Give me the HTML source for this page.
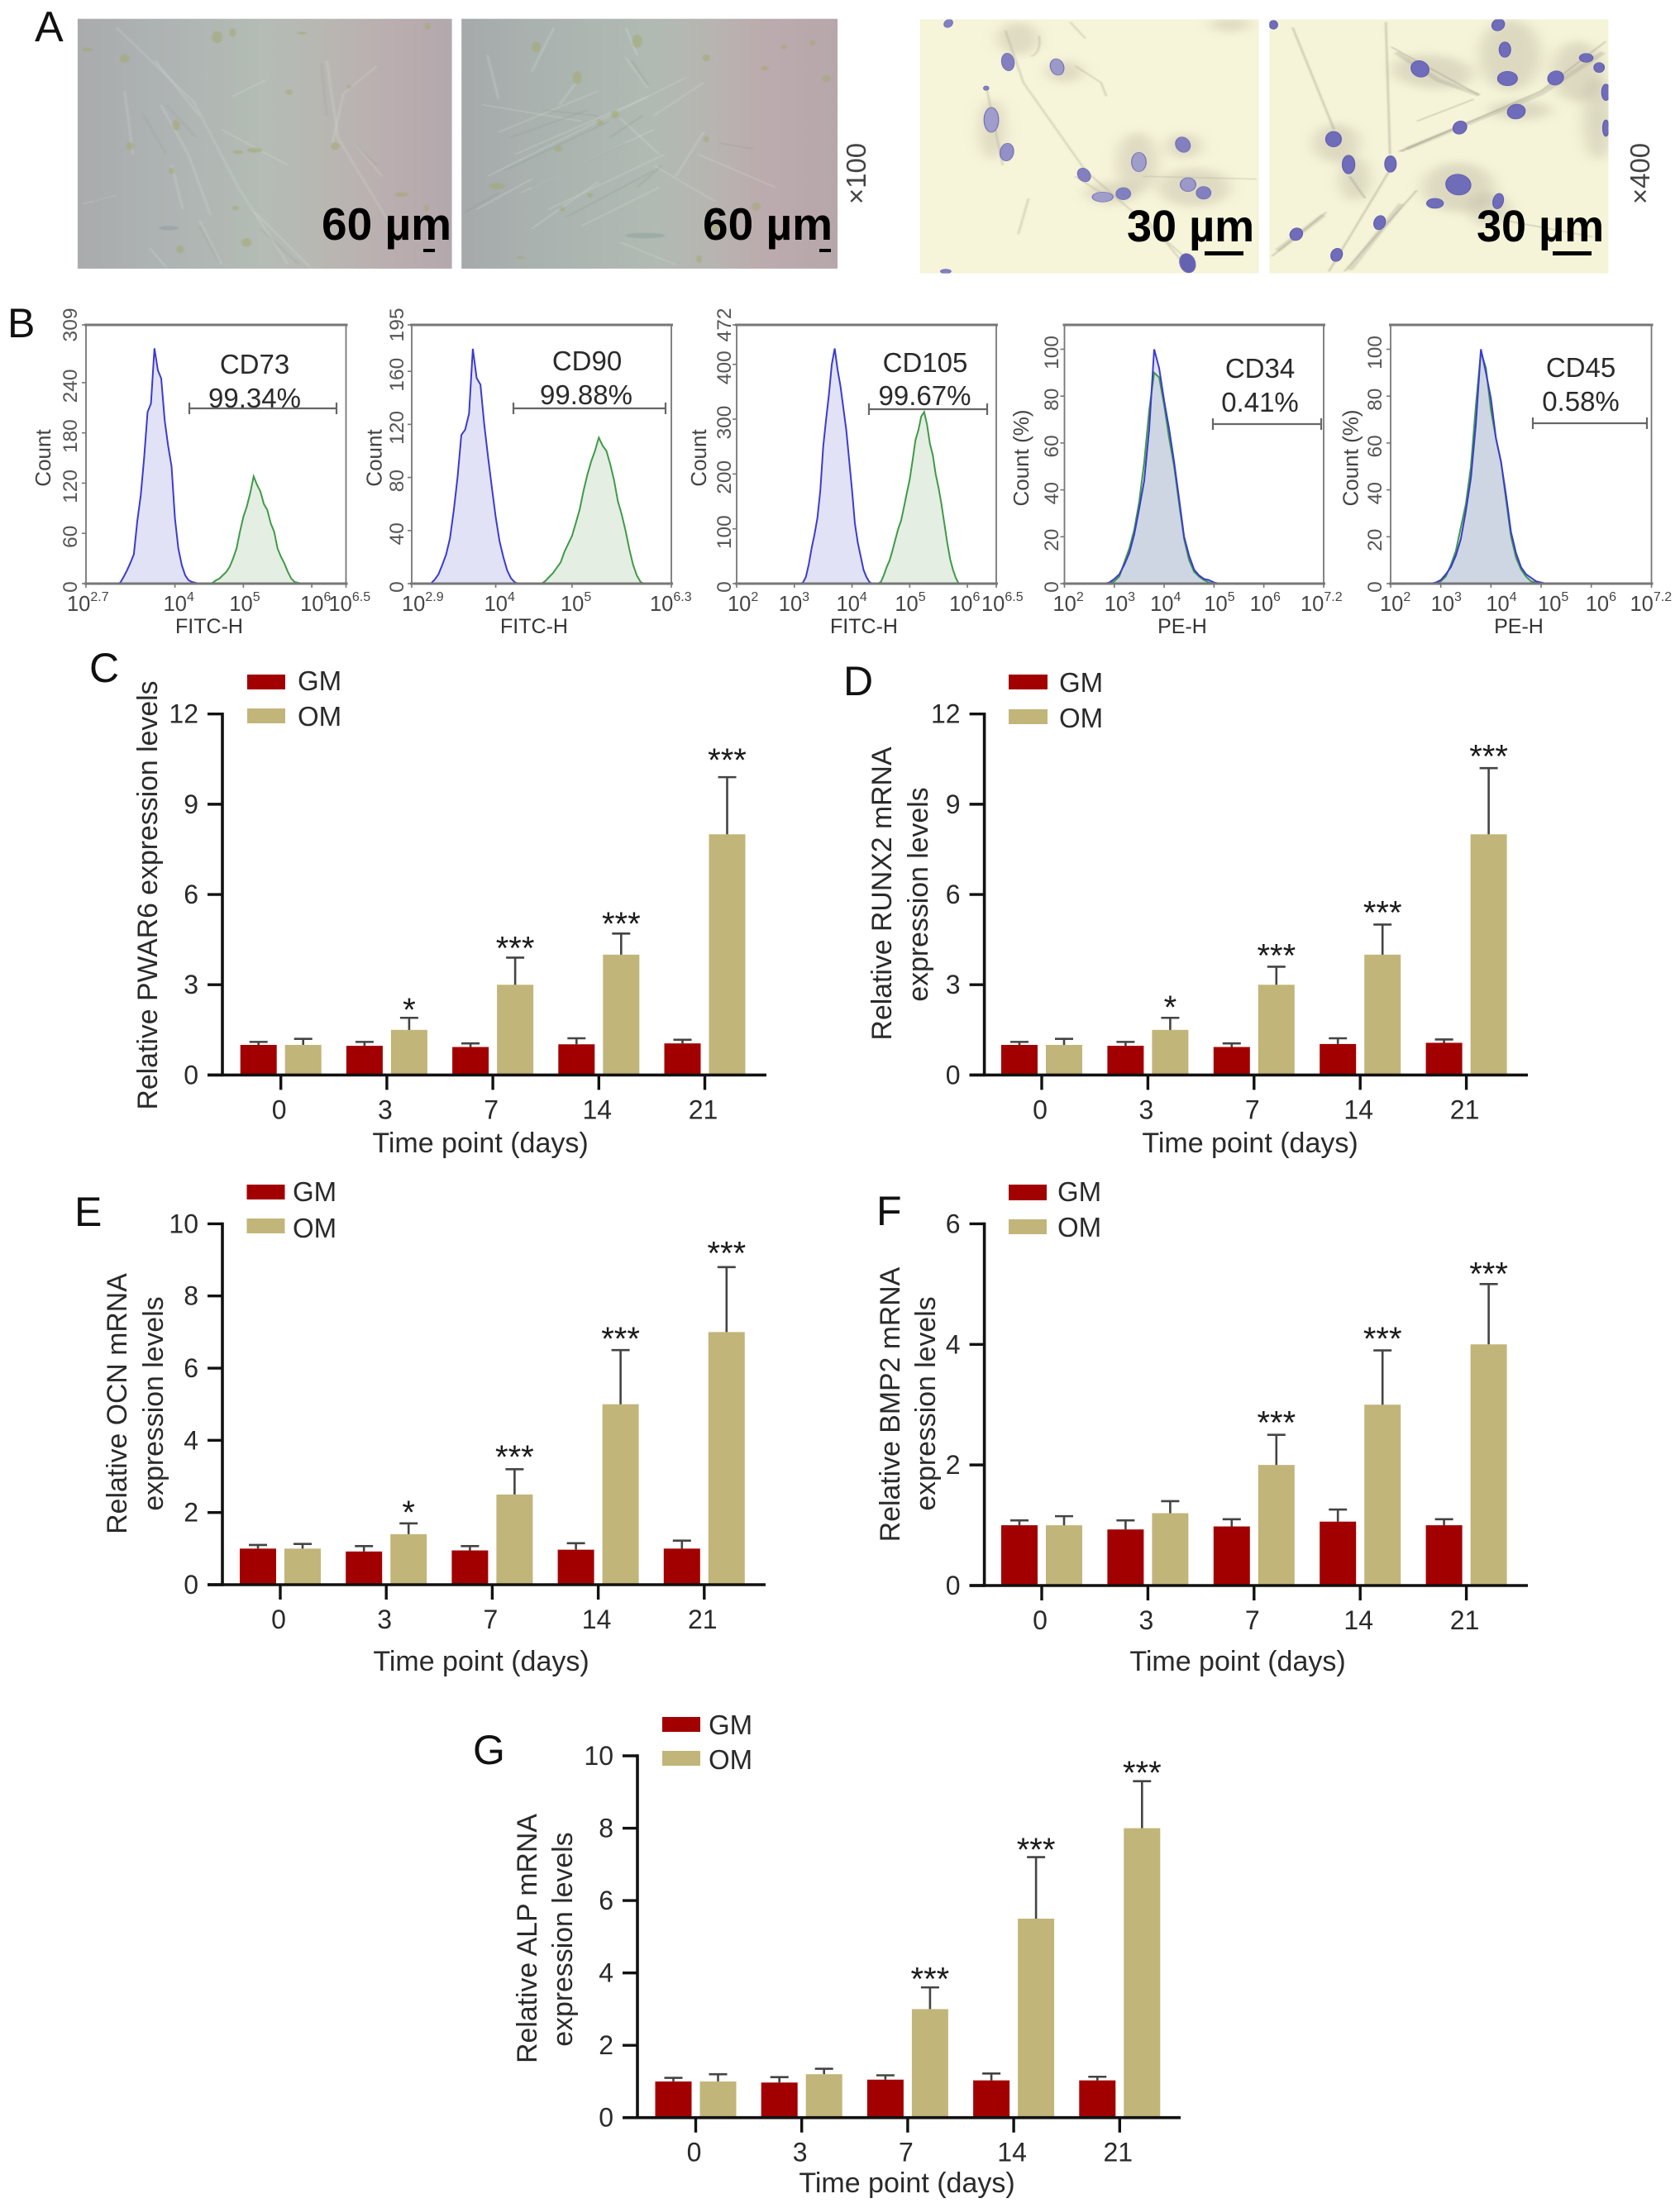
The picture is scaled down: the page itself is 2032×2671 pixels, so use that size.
<!DOCTYPE html>
<html lang="en">
<head>
<meta charset="utf-8">
<title>MSC characterisation and osteogenic expression figure</title>
<style>
html,body{margin:0;padding:0;background:#fff;}
svg{display:block;}
text{font-family:"Liberation Sans",Arial,sans-serif;}
</style>
</head>
<body>
<svg id="figure" xmlns="http://www.w3.org/2000/svg" width="2032" height="2671" viewBox="0 0 2032 2671">
<defs>
<linearGradient id="g1" gradientUnits="userSpaceOnUse" x1="140" y1="0" x2="816" y2="0"><stop offset="0" stop-color="#a9abad"/><stop offset=".25" stop-color="#aeb4b3"/><stop offset=".5" stop-color="#b4bcb5"/><stop offset=".68" stop-color="#b9b6b2"/><stop offset=".85" stop-color="#baadaf"/><stop offset="1" stop-color="#b3a8ad"/></linearGradient>
<linearGradient id="g2" gradientUnits="userSpaceOnUse" x1="833" y1="0" x2="1512" y2="0"><stop offset="0" stop-color="#a5a9ab"/><stop offset=".2" stop-color="#aab2af"/><stop offset=".5" stop-color="#b0bab3"/><stop offset=".66" stop-color="#b7b5b1"/><stop offset=".8" stop-color="#bcabae"/><stop offset="1" stop-color="#b6a7ab"/></linearGradient>
<filter id="soft" x="-5%" y="-5%" width="110%" height="110%"><feGaussianBlur stdDeviation="1.5"/></filter>
<filter id="soft2" x="-30%" y="-30%" width="160%" height="160%"><feGaussianBlur stdDeviation="14"/></filter>
<clipPath id="c1"><rect x="140" y="68" width="676" height="907"/></clipPath>
<clipPath id="c2"><rect x="833" y="68" width="679" height="907"/></clipPath>
<clipPath id="c3"><rect x="100" y="70" width="655" height="922"/></clipPath>
<clipPath id="c4"><rect x="775" y="70" width="655" height="922"/></clipPath>
</defs>
<rect width="2032" height="2671" fill="#fff"/>

<g>
<text x="42" y="50" font-size="52" fill="#111">A</text>
<g transform="scale(.67,.3333)" clip-path="url(#c1)">
<rect x="140" y="68" width="676" height="907" fill="url(#g1)"/>
<g filter="url(#soft)" fill="none" stroke="#d5ddd4" stroke-opacity=".38" stroke-width="3">
<path d="M210 100 L350 370 L430 680 L520 960"/><path d="M280 220 L360 420"/><path d="M225 330 L240 560"/><path d="M290 380 L340 560 L380 780"/><path d="M590 220 L610 500 L700 800"/><path d="M680 240 L620 340 L600 520"/><path d="M460 770 L560 970"/><path d="M360 800 L400 960"/><path d="M150 740 L210 710"/><path d="M420 350 L480 290"/><path d="M400 470 L520 600"/><path d="M640 520 L690 640"/><path d="M310 600 L330 760"/><path d="M270 900 L300 970"/>
</g>
<g filter="url(#soft)" fill="none" stroke="#8e9a8c" stroke-opacity=".3" stroke-width="3">
<path d="M260 420 L300 560"/><path d="M300 380 L355 500"/><path d="M580 230 L590 420"/><path d="M640 520 L680 600"/><path d="M470 830 L540 960"/><path d="M170 730 L205 715"/><path d="M360 820 L395 950"/>
</g>
<g filter="url(#soft)" fill="#a3a76e" fill-opacity=".55">
<ellipse cx="225" cy="212" rx="8" ry="16"/><ellipse cx="392" cy="135" rx="10" ry="22"/><ellipse cx="420" cy="118" rx="6" ry="16"/><ellipse cx="158" cy="180" rx="10" ry="7"/><ellipse cx="318" cy="455" rx="7" ry="18"/><ellipse cx="235" cy="530" rx="7" ry="14"/><ellipse cx="605" cy="530" rx="8" ry="14"/><ellipse cx="460" cy="545" rx="14" ry="9"/><ellipse cx="430" cy="552" rx="9" ry="7"/><ellipse cx="725" cy="706" rx="12" ry="9"/><ellipse cx="445" cy="880" rx="9" ry="16"/><ellipse cx="325" cy="905" rx="7" ry="14"/><ellipse cx="772" cy="95" rx="6" ry="12"/><ellipse cx="630" cy="315" rx="4" ry="7"/><ellipse cx="522" cy="335" rx="6" ry="10"/><ellipse cx="310" cy="620" rx="5" ry="12"/><ellipse cx="425" cy="755" rx="6" ry="9"/><ellipse cx="770" cy="755" rx="5" ry="12"/><ellipse cx="545" cy="120" rx="9" ry="5"/>
</g>
<ellipse cx="305" cy="828" rx="18" ry="8" fill="#8e9a9c" fill-opacity=".5" filter="url(#soft)"/>
</g>
<g transform="scale(.67,.3333)" clip-path="url(#c2)">
<rect x="833" y="68" width="679" height="907" fill="url(#g2)"/>
<g filter="url(#soft)" fill="none" stroke="#d2ddd3" stroke-opacity=".42" stroke-width="3">
<path d="M900 480 L1080 330"/><path d="M930 560 L1170 350"/><path d="M880 640 L1240 280"/><path d="M940 700 L1180 470"/><path d="M990 760 L1200 560"/><path d="M1050 820 L1190 680"/><path d="M870 380 L1050 440"/><path d="M1130 210 L1170 320"/><path d="M1040 300 L1010 380"/><path d="M1120 430 L1190 560"/><path d="M1180 600 L1290 730"/><path d="M960 830 L1080 660"/><path d="M860 760 L960 650"/><path d="M1180 420 L1270 300"/><path d="M1270 480 L1220 640"/><path d="M880 200 L900 360"/><path d="M1000 100 L960 260"/><path d="M1130 100 L1150 200"/><path d="M1260 560 L1400 680"/><path d="M1120 880 L1220 960"/>
</g>
<g filter="url(#soft)" fill="none" stroke="#839186" stroke-opacity=".35" stroke-width="3">
<path d="M920 500 L1060 400"/><path d="M910 620 L1100 440"/><path d="M960 680 L1130 520"/><path d="M1020 790 L1180 620"/><path d="M980 400 L1080 420"/><path d="M1140 220 L1170 310"/><path d="M1100 500 L1160 420"/><path d="M1300 520 L1360 540"/><path d="M840 770 L900 700"/><path d="M1150 680 L1195 600"/>
</g>
<g filter="url(#soft)" fill="#a3a76e" fill-opacity=".55">
<ellipse cx="968" cy="170" rx="8" ry="20"/><ellipse cx="1042" cy="282" rx="8" ry="24"/><ellipse cx="1110" cy="415" rx="7" ry="15"/><ellipse cx="1083" cy="445" rx="6" ry="12"/><ellipse cx="1008" cy="540" rx="7" ry="11"/><ellipse cx="1275" cy="210" rx="7" ry="12"/><ellipse cx="1150" cy="150" rx="9" ry="24"/><ellipse cx="1467" cy="155" rx="5" ry="10"/><ellipse cx="1415" cy="170" rx="5" ry="9"/><ellipse cx="1380" cy="248" rx="7" ry="9"/><ellipse cx="1492" cy="285" rx="8" ry="12"/><ellipse cx="897" cy="676" rx="14" ry="12"/><ellipse cx="1065" cy="708" rx="5" ry="9"/><ellipse cx="1015" cy="758" rx="5" ry="9"/><ellipse cx="1365" cy="750" rx="8" ry="14"/><ellipse cx="1275" cy="505" rx="5" ry="12"/><ellipse cx="1290" cy="825" rx="8" ry="16"/><ellipse cx="1262" cy="940" rx="5" ry="14"/><ellipse cx="940" cy="935" rx="7" ry="5"/>
</g>
<ellipse cx="1165" cy="855" rx="36" ry="10" fill="#8fa49f" fill-opacity=".6" filter="url(#soft)"/>
</g>
<g transform="translate(1050,0) scale(.6262,.3333)" clip-path="url(#c3)">
<rect x="100" y="70" width="655" height="922" fill="#f6f4d9"/>
<g filter="url(#soft2)" fill="#a8a390" fill-opacity=".3">
<ellipse cx="290" cy="140" rx="40" ry="60"/><ellipse cx="700" cy="90" rx="40" ry="25"/><ellipse cx="240" cy="470" rx="25" ry="110"/><ellipse cx="520" cy="590" rx="40" ry="110"/><ellipse cx="630" cy="680" rx="70" ry="70"/><ellipse cx="470" cy="700" rx="50" ry="40"/><ellipse cx="380" cy="260" rx="35" ry="40"/><ellipse cx="610" cy="530" rx="35" ry="45"/>
</g>
<g filter="url(#soft)" fill="none" stroke="#a9a593" stroke-width="3" stroke-opacity=".55">
<path d="M265 110 L300 300 L420 620 L610 930"/><path d="M330 130 Q335 190 315 205"/><path d="M400 240 L450 300 L460 350"/><path d="M390 80 L420 140"/><path d="M230 330 L260 600"/><path d="M540 800 L620 980"/><path d="M530 640 L750 650"/><path d="M310 720 L290 850"/><path d="M450 700 L400 640"/>
</g>
<g fill="#8280bf" stroke="#7470b6" stroke-width="2">
<ellipse cx="270" cy="225" rx="12" ry="32" transform="rotate(-3 270 225)"/><ellipse cx="365" cy="243" rx="13" ry="30" transform="rotate(-5 365 243)" fill="#9b99c8"/><ellipse cx="238" cy="435" rx="14" ry="45" fill="#9f9dca"/><ellipse cx="268" cy="552" rx="13" ry="32" transform="rotate(3 268 552)" fill="#9290c6"/><ellipse cx="155" cy="85" rx="8" ry="15" transform="rotate(10 155 85)"/><ellipse cx="608" cy="525" rx="14" ry="28" transform="rotate(-5 608 525)"/><ellipse cx="523" cy="588" rx="14" ry="35" fill="#9f9dca"/><ellipse cx="417" cy="635" rx="12" ry="25" transform="rotate(-8 417 635)"/><ellipse cx="618" cy="670" rx="15" ry="25" fill="#9b99c8"/><ellipse cx="648" cy="700" rx="14" ry="23"/><ellipse cx="493" cy="703" rx="14" ry="22"/><ellipse cx="453" cy="715" rx="20" ry="18" fill="#9f9dca"/><ellipse cx="617" cy="955" rx="15" ry="35" transform="rotate(-5 617 955)" fill="#6562b2"/><ellipse cx="150" cy="985" rx="10" ry="8"/><ellipse cx="228" cy="320" rx="5" ry="8"/>
</g>
</g>
<g transform="translate(1050,0) scale(.6262,.3333)" clip-path="url(#c4)">
<rect x="775" y="70" width="655" height="922" fill="#f6f4d8"/>
<g filter="url(#soft2)" fill="#a8a390" fill-opacity=".32">
<ellipse cx="905" cy="520" rx="45" ry="70"/><ellipse cx="940" cy="650" rx="30" ry="80"/><ellipse cx="1140" cy="680" rx="70" ry="90"/><ellipse cx="1090" cy="260" rx="80" ry="60" transform="rotate(15 1090 260)"/><ellipse cx="1240" cy="200" rx="60" ry="130"/><ellipse cx="1370" cy="260" rx="50" ry="110"/><ellipse cx="1410" cy="430" rx="30" ry="150"/><ellipse cx="1200" cy="760" rx="40" ry="60"/><ellipse cx="1260" cy="400" rx="60" ry="35"/>
</g>
<g filter="url(#soft)" fill="none" stroke="#9a9688" stroke-width="3" stroke-opacity=".6">
<path d="M820 100 L900 470"/><path d="M1000 80 L1008 560"/><path d="M890 985 L1010 610"/><path d="M780 930 L885 770"/><path d="M920 985 L1060 690"/><path d="M1010 170 L1180 345"/><path d="M1030 550 L1300 330 L1425 150"/><path d="M960 720 L930 640"/><path d="M1140 460 L1025 550"/><path d="M1230 800 L1400 860"/><path d="M1060 440 L1170 360"/>
</g>
<g filter="url(#soft)" fill="none" stroke="#a9a593" stroke-width="12" stroke-opacity=".35">
<path d="M1040 540 L1300 340 L1420 190"/><path d="M1020 190 L1100 290 L1180 345"/><path d="M790 910 L880 780"/><path d="M930 980 L1030 740"/>
</g>
<g fill="#6f6dba" stroke="#5f5bae" stroke-width="2">
<ellipse cx="783" cy="90" rx="8" ry="16"/><ellipse cx="1217" cy="90" rx="12" ry="22" transform="rotate(6 1217 90)"/><ellipse cx="1230" cy="180" rx="11" ry="28"/><ellipse cx="1066" cy="250" rx="17" ry="30" transform="rotate(-6 1066 250)"/><ellipse cx="1235" cy="285" rx="19" ry="26"/><ellipse cx="1387" cy="210" rx="13" ry="16"/><ellipse cx="1412" cy="245" rx="10" ry="18"/><ellipse cx="1328" cy="283" rx="15" ry="26" transform="rotate(5 1328 283)"/><ellipse cx="1252" cy="405" rx="17" ry="27" transform="rotate(5 1252 405)"/><ellipse cx="1143" cy="463" rx="13" ry="24" transform="rotate(6 1143 463)"/><ellipse cx="1425" cy="335" rx="8" ry="30"/><ellipse cx="1425" cy="465" rx="6" ry="30"/><ellipse cx="899" cy="505" rx="15" ry="28"/><ellipse cx="928" cy="597" rx="12" ry="34"/><ellipse cx="1009" cy="595" rx="11" ry="30"/><ellipse cx="1140" cy="670" rx="24" ry="38" transform="rotate(-3 1140 670)"/><ellipse cx="1095" cy="738" rx="16" ry="18"/><ellipse cx="1217" cy="730" rx="10" ry="28" transform="rotate(5 1217 730)"/><ellipse cx="988" cy="808" rx="11" ry="26" transform="rotate(5 988 808)"/><ellipse cx="827" cy="850" rx="12" ry="23" transform="rotate(5 827 850)"/><ellipse cx="905" cy="925" rx="11" ry="24" transform="rotate(5 905 925)"/>
</g>
</g>
<text x="389" y="290" font-size="55" font-weight="700" fill="#000">60 µm</text>
<text x="850" y="290" font-size="55" font-weight="700" fill="#000">60 µm</text>
<rect x="512" y="301" width="14" height="4" fill="#000"/>
<rect x="991" y="301" width="14" height="4" fill="#000"/>
<text x="1363" y="292" font-size="54" font-weight="700" fill="#000">30 µm</text>
<text x="1786" y="292" font-size="54" font-weight="700" fill="#000">30 µm</text>
<rect x="1457" y="304" width="47" height="5" fill="#000"/>
<rect x="1878" y="304" width="47" height="5" fill="#000"/>
<text transform="translate(1047,210) rotate(-90)" text-anchor="middle" font-size="33" fill="#444">×100</text>
<text transform="translate(1995,210) rotate(-90)" text-anchor="middle" font-size="33" fill="#444">×400</text>
</g>

<g id="panel-b">
<text x="9" y="408" font-size="50" fill="#111">B</text>
</g>

<g font-size="50" fill="#111">
<text x="108" y="825">C</text>
<text x="1020" y="841">D</text>
<text x="90" y="1483">E</text>
<text x="1060" y="1482">F</text>
<text x="572" y="2134">G</text>
</g>

<g id="panel-c">
<text transform="translate(190,1083) rotate(-90)" text-anchor="middle" font-size="33.8" fill="#2a2a2a">Relative PWAR6 expression levels</text>
<text x="581" y="1394" text-anchor="middle" font-size="34" fill="#2a2a2a">Time point (days)</text>
<g>
<rect x="299" y="816" width="46" height="18" fill="#a20000"/>
<rect x="299" y="857" width="46" height="18" fill="#c2b57a"/>
<text x="360" y="835" font-size="33" fill="#2a2a2a">GM</text>
<text x="360" y="878" font-size="33" fill="#2a2a2a">OM</text>
</g>
</g>
<g id="panel-d">
<text text-anchor="middle" font-size="33.8" fill="#2a2a2a" transform="translate(1078,1081) rotate(-90)">Relative RUNX2 mRNA</text>
<text text-anchor="middle" font-size="33.8" fill="#2a2a2a" transform="translate(1122,1082) rotate(-90)">expression levels</text>
<text x="1512" y="1394" text-anchor="middle" font-size="34" fill="#2a2a2a">Time point (days)</text>
<g>
<rect x="1220" y="816" width="47" height="18" fill="#a20000"/>
<rect x="1220" y="858" width="47" height="18" fill="#c2b57a"/>
<text x="1281" y="837" font-size="33" fill="#2a2a2a">GM</text>
<text x="1281" y="880" font-size="33" fill="#2a2a2a">OM</text>
</g>
</g>
<g id="panel-e">
<text text-anchor="middle" font-size="33.8" fill="#2a2a2a" transform="translate(153,1698) rotate(-90)">Relative OCN mRNA</text>
<text text-anchor="middle" font-size="33.8" fill="#2a2a2a" transform="translate(197,1698) rotate(-90)">expression levels</text>
<text x="582" y="2021" text-anchor="middle" font-size="34" fill="#2a2a2a">Time point (days)</text>
<g>
<rect x="298.500" y="1433" width="46" height="18" fill="#a20000"/>
<rect x="298.500" y="1474" width="46" height="18" fill="#c2b57a"/>
<text x="354" y="1453" font-size="33" fill="#2a2a2a">GM</text>
<text x="354" y="1497" font-size="33" fill="#2a2a2a">OM</text>
</g>
</g>
<g id="panel-f">
<text text-anchor="middle" font-size="33.8" fill="#2a2a2a" transform="translate(1088,1699) rotate(-90)">Relative BMP2 mRNA</text>
<text text-anchor="middle" font-size="33.8" fill="#2a2a2a" transform="translate(1131,1698) rotate(-90)">expression levels</text>
<text x="1497" y="2021" text-anchor="middle" font-size="34" fill="#2a2a2a">Time point (days)</text>
<g>
<rect x="1220" y="1433" width="46" height="19" fill="#a20000"/>
<rect x="1220" y="1475" width="46" height="18" fill="#c2b57a"/>
<text x="1279" y="1453" font-size="33" fill="#2a2a2a">GM</text>
<text x="1279" y="1496" font-size="33" fill="#2a2a2a">OM</text>
</g>
</g>
<g id="panel-g">
<text text-anchor="middle" font-size="33.8" fill="#2a2a2a" transform="translate(649,2345) rotate(-90)">Relative ALP mRNA</text>
<text text-anchor="middle" font-size="33.8" fill="#2a2a2a" transform="translate(692,2346) rotate(-90)">expression levels</text>
<text x="1097" y="2652" text-anchor="middle" font-size="34" fill="#2a2a2a">Time point (days)</text>
<g>
<rect x="801" y="2077" width="46" height="18" fill="#a20000"/>
<rect x="801" y="2118" width="46" height="18" fill="#c2b57a"/>
<text x="857" y="2098" font-size="33" fill="#2a2a2a">GM</text>
<text x="857" y="2140" font-size="33" fill="#2a2a2a">OM</text>
</g>
</g>
</svg>

<script>
// ---------- Bar chart data ----------
const timeCategories = ['0', '3', '7', '14', '21'];

const pwar6Ticks = [0, 3, 6, 9, 12];
const pwar6GM = [1.0, 0.97, 0.93, 1.02, 1.05];
const pwar6GMUpper = [1.1, 1.1, 1.05, 1.22, 1.17];
const pwar6OM = [1.0, 1.5, 3.0, 4.0, 8.0];
const pwar6OMUpper = [1.2, 1.9, 3.9, 4.7, 9.9];
const pwar6Stars = ['', '*', '***', '***', '***'];
const pwar6StarLevels = [0, 2.35, 4.4, 5.21, 10.65];

const runx2Ticks = [0, 3, 6, 9, 12];
const runx2GM = [1.0, 0.97, 0.93, 1.03, 1.07];
const runx2GMUpper = [1.1, 1.1, 1.05, 1.22, 1.18];
const runx2OM = [1.0, 1.5, 3.0, 4.0, 8.0];
const runx2OMUpper = [1.2, 1.9, 3.6, 5.0, 10.2];
const runx2Stars = ['', '*', '***', '***', '***'];
const runx2StarLevels = [0, 2.43, 4.15, 5.57, 10.77];

const ocnTicks = [0, 2, 4, 6, 8, 10];
const ocnGM = [1.0, 0.92, 0.95, 0.97, 1.0];
const ocnGMUpper = [1.1, 1.07, 1.07, 1.15, 1.22];
const ocnOM = [1.0, 1.4, 2.5, 5.0, 7.0];
const ocnOMUpper = [1.13, 1.7, 3.2, 6.5, 8.8];
const ocnStars = ['', '*', '***', '***', '***'];
const ocnStarLevels = [0, 2.15, 3.69, 6.96, 9.33];

const bmp2Ticks = [0, 2, 4, 6];
const bmp2GM = [1.0, 0.93, 0.98, 1.06, 1.0];
const bmp2GMUpper = [1.08, 1.08, 1.1, 1.26, 1.1];
const bmp2OM = [1.0, 1.2, 2.0, 3.0, 4.0];
const bmp2OMUpper = [1.15, 1.4, 2.5, 3.9, 5.0];
const bmp2Stars = ['', '', '***', '***', '***'];
const bmp2StarLevels = [0, 0, 2.79, 4.18, 5.26];

const alpTicks = [0, 2, 4, 6, 8, 10];
const alpGM = [1.0, 0.97, 1.05, 1.03, 1.03];
const alpGMUpper = [1.1, 1.12, 1.17, 1.22, 1.13];
const alpOM = [1.0, 1.2, 3.0, 5.5, 8.0];
const alpOMUpper = [1.2, 1.35, 3.6, 7.2, 9.3];
const alpStars = ['', '', '***', '***', '***'];
const alpStarLevels = [0, 0, 3.98, 7.56, 9.68];

// ---------- Flow cytometry data (log10 bin start, then counts per bin) ----------
const flowBinStep = 0.05;
const flowBinStepWide = 0.1;

const cd73YTicks = [0, 60, 120, 180, 240, 309];
const cd73XTicks = [2.7, 4, 5, 6, 6.5];
const cd73BlueStart = 3.15;
const cd73BlueCounts = [0, 1, 8, 16, 25, 35, 75, 105, 150, 205, 215, 281, 255, 245, 195, 165, 140, 78, 42, 22, 10, 4, 2, 1, 0];
const cd73GreenStart = 4.5;
const cd73GreenCounts = [0, 1, 4, 6, 10, 14, 20, 30, 42, 62, 80, 92, 108, 128, 118, 110, 95, 88, 72, 62, 42, 32, 24, 14, 6, 2, 1, 0];

const cd90YTicks = [0, 40, 80, 120, 160, 195];
const cd90XTicks = [2.9, 4, 5, 6.3];
const cd90BlueStart = 3.15;
const cd90BlueCounts = [0, 3, 7, 14, 22, 34, 55, 80, 112, 116, 128, 177, 155, 150, 120, 95, 72, 50, 32, 20, 10, 4, 1, 0];
const cd90GreenStart = 4.6;
const cd90GreenCounts = [0, 2, 5, 8, 12, 16, 24, 30, 36, 46, 56, 70, 82, 92, 100, 110, 104, 100, 90, 78, 62, 52, 40, 26, 14, 6, 1, 0];

const cd105YTicks = [0, 100, 200, 300, 400, 472];
const cd105XTicks = [2, 3, 4, 5, 6, 6.5];
const cd105BlueStart = 3.1;
const cd105BlueCounts = [0, 2, 12, 35, 65, 90, 120, 170, 250, 300, 345, 400, 429, 390, 360, 320, 280, 225, 170, 110, 75, 50, 25, 12, 3, 0];
const cd105GreenStart = 4.45;
const cd105GreenCounts = [0, 3, 15, 30, 42, 60, 80, 100, 115, 140, 165, 190, 225, 262, 280, 305, 313, 290, 255, 235, 200, 175, 145, 110, 75, 45, 25, 10, 0];

const pctYTicks = [0, 20, 40, 60, 80, 100];
const peXTicks = [2, 3, 4, 5, 6, 7.2];
const cd34BlueStart = 2.8;
const cd34BlueCounts = [0, 0.5, 2, 4, 8, 13, 21, 32, 44, 66, 100, 92, 78, 66, 52, 36, 20, 12, 6, 3.5, 2, 1.5, 0.5, 0];
const cd34GreenStart = 2.9;
const cd34GreenCounts = [0, 1, 3, 9, 15, 23, 35, 52, 74, 90, 88, 76, 62, 50, 34, 19, 10, 5, 3, 1.5, 0.5, 0];
const cd45BlueStart = 2.8;
const cd45BlueCounts = [0, 0.5, 1.5, 4, 7, 12, 19, 31, 45, 68, 100, 90, 79, 62, 52, 38, 22, 13, 7, 4, 2.5, 1, 0.5, 0];
const cd45GreenStart = 2.9;
const cd45GreenCounts = [0, 1, 3, 8, 14, 24, 34, 50, 76, 99, 92, 74, 62, 52, 36, 20, 11, 6, 3, 1, 0.5, 0];

// ---------- Drawing helpers ----------
const NS = 'http://www.w3.org/2000/svg';
function mk(tag, attrs, parent) {
  const el = document.createElementNS(NS, tag);
  for (const k in attrs) el.setAttribute(k, attrs[k]);
  parent.appendChild(el);
  return el;
}

// ---------- Grouped bar charts ----------
function drawBarChart(host, frame, cats, ticks, gm, gmUpper, om, omUpper, stars, starLevels) {
  const yMax = ticks[ticks.length - 1];
  const yScale = v => frame.y0 - v / yMax * (frame.y0 - frame.yTop);
  const xScale = i => frame.x0 + i * frame.step;
  const ink = '#111';

  function drawBar(i, value, upper, offset, color, label) {
    const cx = xScale(i) + offset;
    const top = yScale(value);
    const bar = mk('rect', {x: cx - 22, y: top, width: 44, height: frame.y0 - top, fill: color}, host);
    
    
    const up = yScale(upper);
    const err = mk('path', {d: 'M' + cx + ' ' + top + 'V' + up + 'M' + (cx - 11) + ' ' + up + 'H' + (cx + 11), stroke: '#444', 'stroke-width': 2.6, fill: 'none'}, host);
    
    
  }

  cats.forEach((c, i) => {
    drawBar(i, gm[i], gmUpper[i], -27, '#a20000', 'gm');
    drawBar(i, om[i], omUpper[i], 27, '#c2b57a', 'om');
    if (stars[i]) {
      const star = mk('text', {x: xScale(i) + 27, y: yScale(starLevels[i]) + 20, 'text-anchor': 'middle', 'font-size': 40, fill: '#1a1a1a'}, host);
      star.textContent = stars[i];
      
      
    }
    const tick = mk('line', {x1: xScale(i), x2: xScale(i), y1: frame.y0, y2: frame.y0 + 18, stroke: ink, 'stroke-width': 3.4}, host);
    
    
    const lab = mk('text', {x: xScale(i) - 2, y: frame.y0 + 53, 'text-anchor': 'middle', 'font-size': 32, fill: '#2a2a2a'}, host);
    lab.textContent = c;
    
    
  });

  ticks.forEach(t => {
    const tick = mk('line', {x1: frame.xAxis - 18, x2: frame.xAxis, y1: yScale(t), y2: yScale(t), stroke: ink, 'stroke-width': 3.4}, host);
    
    
    const lab = mk('text', {x: frame.xAxis - 29, y: yScale(t) + 11, 'text-anchor': 'end', 'font-size': 32, fill: '#2a2a2a'}, host);
    lab.textContent = t;
    
    
  });

  const yAxis = mk('line', {x1: frame.xAxis, x2: frame.xAxis, y1: frame.yTop - 1.7, y2: frame.y0 + 1.7, stroke: ink, 'stroke-width': 3.6}, host);
  
  
  const xAxis = mk('line', {x1: frame.xAxis - 18, x2: frame.xEnd, y1: frame.y0, y2: frame.y0, stroke: ink, 'stroke-width': 3.6}, host);
  
  
}

drawBarChart(document.getElementById('panel-c'), {xAxis: 269, xEnd: 927, x0: 339.7, step: 128.2, y0: 1300.4, yTop: 863.7}, timeCategories, pwar6Ticks, pwar6GM, pwar6GMUpper, pwar6OM, pwar6OMUpper, pwar6Stars, pwar6StarLevels);
drawBarChart(document.getElementById('panel-d'), {xAxis: 1190.6, xEnd: 1848, x0: 1260, step: 128.4, y0: 1300.4, yTop: 863.7}, timeCategories, runx2Ticks, runx2GM, runx2GMUpper, runx2OM, runx2OMUpper, runx2Stars, runx2StarLevels);
drawBarChart(document.getElementById('panel-e'), {xAxis: 269, xEnd: 926, x0: 339, step: 128.2, y0: 1917, yTop: 1480.4}, timeCategories, ocnTicks, ocnGM, ocnGMUpper, ocnOM, ocnOMUpper, ocnStars, ocnStarLevels);
drawBarChart(document.getElementById('panel-f'), {xAxis: 1190.6, xEnd: 1848, x0: 1260, step: 128.4, y0: 1918, yTop: 1480.4}, timeCategories, bmp2Ticks, bmp2GM, bmp2GMUpper, bmp2OM, bmp2OMUpper, bmp2Stars, bmp2StarLevels);
drawBarChart(document.getElementById('panel-g'), {xAxis: 771, xEnd: 1428, x0: 841.5, step: 128.2, y0: 2561.7, yTop: 2124}, timeCategories, alpTicks, alpGM, alpGMUpper, alpOM, alpOMUpper, alpStars, alpStarLevels);

// ---------- Flow cytometry histograms ----------
function drawFlow(name, f, yTicks, yDomainMax, xTicks, blueStart, blueCounts, greenStart, greenCounts, step) {
  const host = document.getElementById('panel-b');
  const g = mk('g', {}, host);
  
  
  const top = 393, bottom = 706;
  const xMin = xTicks[0], xMax = xTicks[xTicks.length - 1];
  const xScale = l => f.left + (l - xMin) / (xMax - xMin) * (f.right - f.left);
  const yScale = c => bottom - c / yDomainMax * (bottom - top);

  function area(start, counts) {
    let d = 'M' + xScale(start) + ' ' + bottom;
    counts.forEach((c, i) => { d += 'L' + xScale(start + i * step).toFixed(1) + ' ' + yScale(c).toFixed(1); });
    return d + 'L' + xScale(start + (counts.length - 1) * step).toFixed(1) + ' ' + bottom;
  }
  const greenFill = mk('path', {d: area(greenStart, greenCounts) + 'Z', fill: 'rgb(120,170,110)', 'fill-opacity': .2}, g);
  
  
  const blueFill = mk('path', {d: area(blueStart, blueCounts) + 'Z', fill: 'rgb(160,160,230)', 'fill-opacity': .3}, g);
  
  
  const greenLine = mk('path', {d: area(greenStart, greenCounts), fill: 'none', stroke: '#3f9a48', 'stroke-width': 2}, g);
  
  
  const blueLine = mk('path', {d: area(blueStart, blueCounts), fill: 'none', stroke: '#3b3bcf', 'stroke-width': 2}, g);
  
  

  const frame = mk('rect', {x: f.left, y: top, width: f.right - f.left, height: bottom - top, fill: 'none', stroke: '#777', 'stroke-width': 1.8}, g);
  
  
  const topRule = mk('line', {x1: f.left - 2, x2: f.right + 2, y1: top, y2: top, stroke: '#777', 'stroke-width': 3}, g);
  
  
  const botRule = mk('line', {x1: f.left - 2, x2: f.right + 2, y1: bottom, y2: bottom, stroke: '#777', 'stroke-width': 3}, g);
  
  

  yTicks.forEach(t => {
    const atTop = t === yDomainMax;
    const yy = yScale(t);
    const tick = mk('line', {x1: f.left - 5, x2: f.left, y1: yy, y2: yy, stroke: '#777', 'stroke-width': 1.6}, g);
    
    
    const lab = mk('text', {transform: 'translate(' + (f.yLabelX + 8) + ',' + (yy + (atTop ? 0 : 4)) + ') rotate(-90)', 'text-anchor': 'middle', 'font-size': 24.5, fill: '#555'}, g);
    lab.textContent = t;
    
    
  });

  xTicks.forEach((t, i) => {
    const xx = xScale(t);
    const tick = mk('line', {x1: xx, x2: xx, y1: bottom, y2: bottom + 5, stroke: '#777', 'stroke-width': 1.6}, g);
    
    
    const lab = mk('text', {x: xx + f.labelShift[i] - 14, y: 739, 'font-size': 25.5, fill: '#444'}, g);
    
    
    const base = mk('tspan', {}, lab);
    base.textContent = '10';
    const sup = mk('tspan', {dy: -12, 'font-size': 16}, lab);
    sup.textContent = t;
  });
}

drawFlow('cd73', {left: 104, right: 418.5, yLabelX: 85, labelShift: [-9, 0, -3, 0, -7]}, cd73YTicks, 309, cd73XTicks, cd73BlueStart, cd73BlueCounts, cd73GreenStart, cd73GreenCounts, flowBinStep);
drawFlow('cd90', {left: 498, right: 812, yLabelX: 480, labelShift: [2, 0, 0, -12]}, cd90YTicks, 195, cd90XTicks, cd90BlueStart, cd90BlueCounts, cd90GreenStart, cd90GreenCounts, flowBinStep);
drawFlow('cd105', {left: 891, right: 1205, yLabelX: 876, labelShift: [3, -5, -5, -4, -8, -4]}, cd105YTicks, 472, cd105XTicks, cd105BlueStart, cd105BlueCounts, cd105GreenStart, cd105GreenCounts, flowBinStep);
drawFlow('cd34', {left: 1287.5, right: 1601, yLabelX: 1272, labelShift: [0, 2, -3, 2, -3, -14]}, pctYTicks, 110.4, peXTicks, cd34BlueStart, cd34BlueCounts, cd34GreenStart, cd34GreenCounts, flowBinStepWide);
drawFlow('cd45', {left: 1682, right: 1997.5, yLabelX: 1663, labelShift: [1, 2, 8, 10, 7, -12]}, pctYTicks, 110.4, peXTicks, cd45BlueStart, cd45BlueCounts, cd45GreenStart, cd45GreenCounts, flowBinStepWide);

// ---------- Flow annotations ----------
const flowMarkers = ['CD73', 'CD90', 'CD105', 'CD34', 'CD45'];
const flowPercents = ['99.34%', '99.88%', '99.67%', '0.41%', '0.58%'];
const flowAxisNames = ['FITC-H', 'FITC-H', 'FITC-H', 'PE-H', 'PE-H'];
const flowCountTitles = ['Count', 'Count', 'Count', 'Count (%)', 'Count (%)'];
const flowLayouts = [
  {cx: 308, base1: 452, pct: 308, base2: 493, g1: 229, g2: 407, gy: 494, xt: 253, ct: 52},
  {cx: 710, base1: 448, pct: 709, base2: 489, g1: 621, g2: 805, gy: 494, xt: 646, ct: 452.5},
  {cx: 1119, base1: 450, pct: 1118.5, base2: 490, g1: 1051, g2: 1194, gy: 495, xt: 1045, ct: 845},
  {cx: 1524, base1: 457, pct: 1524, base2: 498, g1: 1467, g2: 1598, gy: 513, xt: 1430, ct: 1235},
  {cx: 1912, base1: 456, pct: 1912, base2: 497, g1: 1854, g2: 1992, gy: 512, xt: 1837, ct: 1633.5}
];
const panelB = document.getElementById('panel-b');
flowMarkers.forEach((m, i) => {
  const L = flowLayouts[i];
  const t1 = mk('text', {x: L.cx, y: L.base1, 'text-anchor': 'middle', 'font-size': 33, fill: '#2a2a2a'}, panelB);
  t1.textContent = m;
  
  
  const t2 = mk('text', {x: L.pct, y: L.base2, 'text-anchor': 'middle', 'font-size': 33, fill: '#2a2a2a'}, panelB);
  t2.textContent = flowPercents[i];
  
  
  const gate = mk('path', {d: 'M' + L.g1 + ' ' + (L.gy - 7) + 'V' + (L.gy + 7) + 'M' + L.g1 + ' ' + L.gy + 'H' + L.g2 + 'M' + L.g2 + ' ' + (L.gy - 7) + 'V' + (L.gy + 7), fill: 'none', stroke: '#666', 'stroke-width': 2.2}, panelB);
  
  
  const xt = mk('text', {x: L.xt, y: 766, 'text-anchor': 'middle', 'font-size': 25, fill: '#333'}, panelB);
  xt.textContent = flowAxisNames[i];
  
  
  const ct = mk('text', {transform: 'translate(' + (L.ct + 9) + ',554) rotate(-90)', 'text-anchor': 'middle', 'font-size': 26, fill: '#444'}, panelB);
  ct.textContent = flowCountTitles[i];
  
  
});
</script>
</body>
</html>
